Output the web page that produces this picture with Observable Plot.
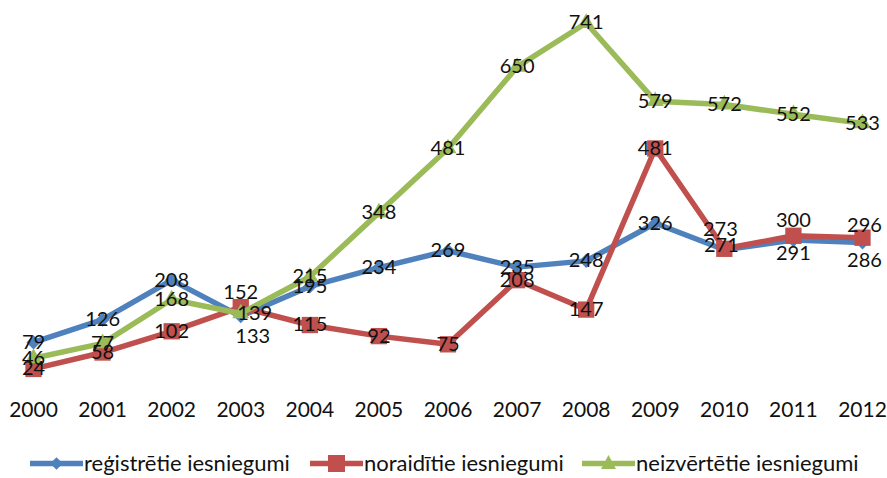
<!DOCTYPE html>
<html>
<head>
<meta charset="utf-8">
<script src="https://cdn.jsdelivr.net/npm/d3@7"></script>
<script src="https://cdn.jsdelivr.net/npm/@observablehq/plot@0.6"></script>
<style>
  body { margin: 0; background: #fff; font-family: Lato, "Open Sans", sans-serif; }
  #wrap { width: 887px; height: 478px; position: relative; overflow: hidden; }
  #legend { position: absolute; top: 449px; left: 0; width: 887px; height: 28px; }
  .item { position: absolute; top: 0; display: flex; align-items: center; height: 28px; font-size: 22px; line-height: 26px; color: #111; }
  .item svg { margin-right: 1px; }
</style>
</head>
<body>
<div id="wrap"><div id="chart"></div><div id="legend"></div></div>
<script>
const years = [2000, 2001, 2002, 2003, 2004, 2005, 2006, 2007, 2008, 2009, 2010, 2011, 2012];
const seriesNames = ["reģistrētie iesniegumi", "noraidītie iesniegumi", "neizvērtētie iesniegumi"];
const registered  = [79, 126, 208, 133, 195, 234, 269, 235, 248, 326, 271, 291, 286];
const rejected    = [24, 58, 102, 152, 115, 92, 75, 208, 147, 481, 273, 300, 296];
const unevaluated = [46, 77, 168, 139, 215, 348, 481, 650, 741, 579, 572, 552, 533];

const colors = ["#4F81BD", "#C0504D", "#9BBB59"];
const values = [registered, rejected, unevaluated];

const rows = [];
values.forEach((vals, s) => vals.forEach((v, i) => rows.push({series: seriesNames[s], s, year: years[i], value: v})));

// label placement nudges (style only) keyed by series index and year
const nudge = {
  "0-2003": [12, 20], "1-2003": [0, -15], "2-2003": [14, 0],
  "1-2010": [-4, -19], "0-2010": [-3, -4],
  "1-2011": [0, -15], "0-2011": [0, 13],
  "1-2012": [2, -12], "0-2012": [2, 18]
};
const labelRows = rows.map(d => {
  const n = nudge[d.s + "-" + d.year] || [0, 0];
  return {...d, dx: n[0], dy: n[1]};
});

const marks = [];
values.forEach((vals, s) => {
  const data = rows.filter(d => d.s === s);
  marks.push(Plot.line(data, {x: "year", y: "value", stroke: colors[s], strokeWidth: 5.5, strokeLinejoin: "round"}));
  if (s === 0) marks.push(Plot.dot(data, {x: "year", y: "value", symbol: "square", rotate: 45, r: 5.6, fill: colors[s], stroke: "none"}));
  if (s === 1) marks.push(Plot.dot(data, {x: "year", y: "value", symbol: "square", r: 9.2, fill: colors[s], stroke: "none"}));
  if (s === 2) marks.push(Plot.dot(data, {x: "year", y: "value", symbol: "triangle", r: 6.3, fill: colors[s], stroke: "none"}));
});
// labels, each with its own offset
labelRows.forEach(d => {
  marks.push(Plot.text([d], {x: "year", y: "value", text: d => String(d.value), dx: d.dx, dy: d.dy, fill: "#111", fontSize: 20, textAnchor: "middle", lineAnchor: "middle"}));
});

const chart = Plot.plot({
  width: 887,
  height: 440,
  marginLeft: 33,
  marginRight: 25,
  marginTop: 10,
  marginBottom: 60,
  style: {fontFamily: "Lato, 'Open Sans', sans-serif", background: "#fff", overflow: "visible"},
  x: {domain: [2000, 2012], label: null},
  y: {domain: [0, 767], axis: null},
  marks: [
    Plot.axisX({ticks: years, tickFormat: d => String(d), tickSize: 0, tickPadding: 22, fontSize: 21, fill: "#111", label: null}),
    ...marks
  ]
});
document.getElementById("chart").appendChild(chart);

// legend
const legend = document.getElementById("legend");
const lefts = [30, 310, 582];
const symbols = [
  '<rect x="22" y="10" width="9" height="9" transform="rotate(45 26.5 14.5)" fill="C"/>',
  '<rect x="18" y="6" width="17" height="17" fill="C"/>',
  '<path d="M26.5 6 L34 20 L19 20 Z" fill="C"/>'
];
seriesNames.forEach((name, s) => {
  const div = document.createElement("div");
  div.className = "item";
  div.style.left = lefts[s] + "px";
  div.innerHTML = `<svg width="53" height="29"><line x1="0" y1="14.5" x2="53" y2="14.5" stroke="${colors[s]}" stroke-width="5.5"/>${symbols[s].replace("C", colors[s])}</svg><span>${name}</span>`;
  legend.appendChild(div);
});
</script>
</body>
</html>
